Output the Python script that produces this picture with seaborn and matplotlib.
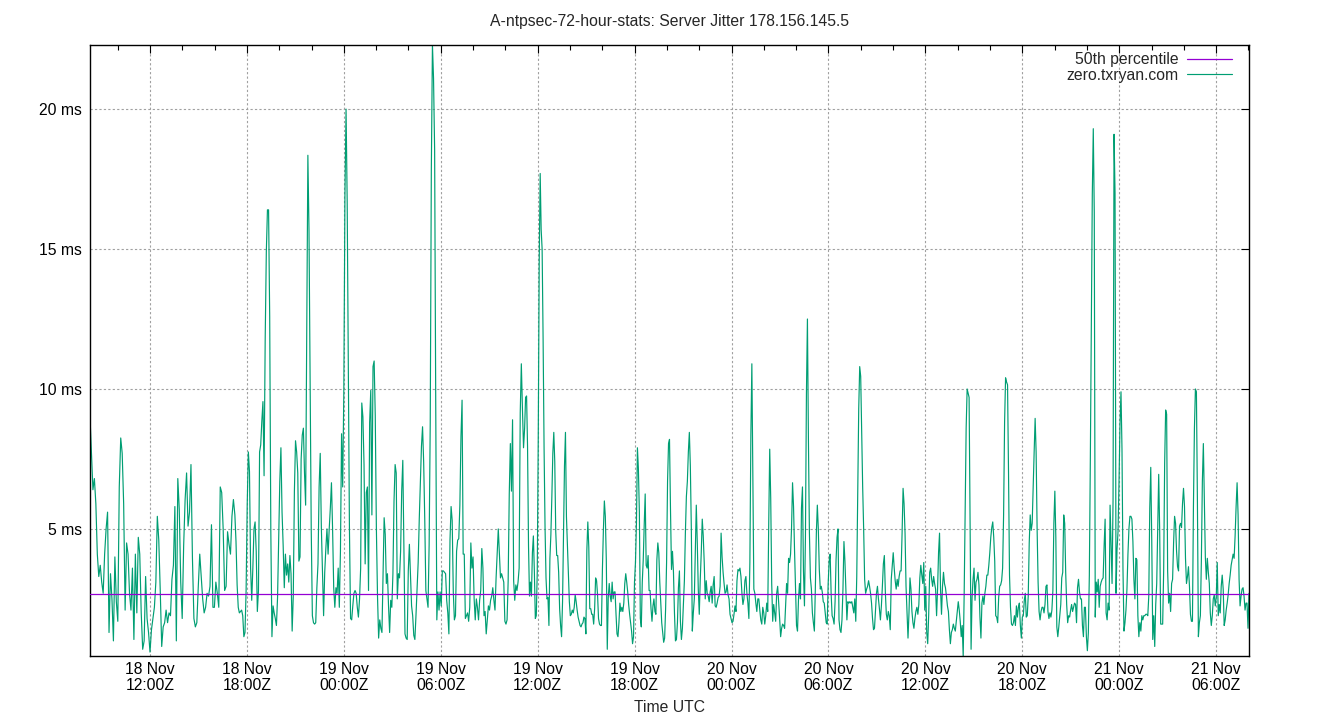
import numpy as np
import pandas as pd
import matplotlib
matplotlib.use("Agg")
import matplotlib.pyplot as plt
import matplotlib.dates as mdates
import seaborn as sns

# ---------------- data ----------------
title = "A-ntpsec-72-hour-stats: Server Jitter 178.156.145.5"
series_name = "zero.txryan.com"
p50_name = "50th percentile"
p50_value = 2.68
x_label = "Time UTC"
t_start = "2023-11-18 08:17"
t_end = "2023-11-21 08:02"
y_ticks = [5, 10, 15, 20]
y_tick_labels = ["5 ms", "10 ms", "15 ms", "20 ms"]
y_min, y_max = 0.46, 22.29

seg1 = [9.0, 7.7, 6.4, 6.8, 5.9, 4.1, 3.3, 3.7, 3.1, 2.7, 4.1, 5.0, 5.6, 1.3, 3.4, 2.5, 1.0, 4.0, 2.4, 1.7,
        6.5, 8.25, 7.7, 5.9, 2.1, 4.5, 4.1, 2.7, 2.1, 3.6, 1.05, 4.1, 2.0, 4.7, 4.1, 2.0, 0.7, 1.0, 3.3, 1.8,
        1.3, 0.6, 1.4, 1.8, 2.2, 3.1, 5.45, 4.6, 2.8, 0.8, 1.5, 1.65, 2.1, 1.65, 2.0, 1.9, 3.2, 3.7, 5.8, 1.0,
        6.8, 5.7, 3.1, 1.8, 4.4, 6.05, 7.0, 5.1, 5.6, 7.3, 3.96, 1.8, 1.5, 1.65, 2.95, 4.1, 3.3, 2.5, 2.0, 2.2,
        2.7, 2.6, 2.95, 5.15, 2.2, 2.2, 3.1, 2.7, 2.2, 6.5, 6.3, 5.0, 2.8, 2.95, 4.9, 4.45, 4.1, 5.45, 6.05]
seg2 = [5.5, 4.55, 3.0, 2.2, 2.0, 2.05, 2.1, 1.9, 1.15, 1.3, 2.8, 5.9, 7.75, 7.05, 3.6, 2.45, 3.6, 5.0, 5.25, 4.2,
        2.05, 2.8, 7.75, 8.0, 8.85, 9.55, 6.9, 11.8, 14.9, 16.4, 16.4, 12.6, 4.95, 1.15, 2.25, 2.0, 1.8, 1.55, 2.55, 4.7,
        6.7, 7.9, 5.6, 4.4, 2.9, 4.1, 3.35, 3.75, 3.1, 4.05, 3.4, 1.35, 2.6, 6.35, 8.15, 7.75, 7.0, 3.85, 4.0, 7.5,
        8.35, 8.6, 7.0, 5.85, 11.85, 18.35, 15.65, 10.25, 4.95, 1.9, 1.65, 1.6, 1.65, 2.9, 3.75, 6.5, 7.7, 5.05, 3.45, 1.9,
        3.45, 4.3, 5.0, 4.1, 5.0, 5.75, 6.65, 5.0, 2.9, 2.2, 2.9, 2.7, 3.6, 2.2, 4.2, 8.4, 6.5, 9.85, 16.9, 20.0,
        16.7, 10.95, 5.05, 1.8, 1.75, 2.25, 2.7, 2.8, 2.7, 2.2, 1.85, 2.5, 3.6, 9.5, 9.0, 7.3, 3.75, 6.3, 6.5, 2.8,
        8.8, 9.95, 5.5, 10.8, 11.0, 9.05, 5.0, 2.6, 1.1]
seg3 = [1.75, 1.45, 1.3, 3.4, 5.4, 4.8, 3.05, 3.4, 2.25, 1.3, 2.45, 2.2, 3.4, 6.0, 7.3, 7.0, 2.5, 3.4, 3.25, 4.2,
        6.35, 7.45, 4.3, 1.25, 1.1, 1.05, 3.5, 4.45, 3.4, 2.25, 1.9, 1.2, 1.05, 1.9, 2.9, 3.8, 5.35, 6.7, 7.95, 8.65,
        7.4, 5.35, 2.8, 2.5, 2.2, 4.45, 8.8, 17.85, 22.3, 21.1, 18.55, 9.5, 1.75, 2.75, 2.1, 2.75, 2.25, 3.5, 3.5, 3.45,
        3.4, 2.45, 2.0, 1.25, 4.6, 5.8, 5.3, 2.75, 1.75, 1.9, 4.2, 4.6, 4.65, 5.85, 8.3, 9.6, 4.1, 4.1, 1.8, 1.9,
        2.0, 1.7, 2.2, 4.5, 3.6, 4.0, 2.5, 1.75, 2.5, 2.2, 1.75, 2.45, 2.8, 4.3, 3.6, 1.9, 2.05, 1.25, 1.75, 2.25,
        2.1, 2.45, 2.6, 2.9, 2.45, 2.1, 3.25, 4.1, 5.0, 4.15, 3.25, 3.4, 3.25, 3.1, 1.7, 1.6, 1.75, 3.15, 6.25, 8.05,
        6.35, 8.9, 3.15, 2.45, 3.0, 2.8, 3.1, 3.6, 9.15, 10.9, 9.3, 7.9]
seg4 = [8.6, 9.7, 9.75, 7.95, 4.4, 2.6, 3.1, 2.6, 4.15, 4.75, 3.5, 1.8, 1.9, 3.5, 8.2, 14.5, 17.7, 15.7, 15.0, 11.8,
        7.9, 5.05, 3.25, 2.5, 2.55, 1.55, 3.95, 4.8, 6.15, 7.7, 8.45, 7.4, 4.9, 4.05, 4.05, 3.45, 2.15, 1.55, 1.15, 2.4,
        4.9, 7.25, 8.45, 5.45, 4.4, 3.4, 2.4, 1.9, 1.95, 2.1, 2.0, 2.2, 2.65, 2.4, 2.1, 1.85, 1.7, 1.55, 1.5, 1.6,
        1.65, 1.85, 1.8, 1.25, 4.25, 5.25, 4.35, 2.15, 2.15, 1.95, 1.95, 1.6, 2.15, 3.25, 3.15, 2.65, 1.8, 1.6, 1.55, 1.55,
        3.55, 4.95, 6.0, 5.45, 3.9, 0.7, 2.55, 3.05, 2.6, 2.4, 3.1, 2.5, 2.75, 2.75, 1.95, 1.25, 1.15, 1.65, 2.35, 2.05,
        2.2, 2.05, 2.35, 3.05, 3.4, 3.1, 2.75, 2.3, 1.95, 1.65, 1.35, 0.9, 1.15, 3.1, 3.8, 5.2, 7.9, 7.15, 5.6, 1.8,
        1.5, 3.1, 3.9, 5.15, 6.25, 3.7, 3.6, 4.05, 2.8, 2.8, 2.15, 1.7, 2.25, 2.5, 2.05, 1.95, 3.9, 4.5, 4.15, 3.1,
        2.4, 1.65, 1.3, 0.95, 1.1, 2.15, 3.8, 6.7, 8.05]
seg5 = [8.2, 5.7, 3.55, 4.2, 3.45, 2.0, 1.0, 1.05, 1.65, 2.9, 3.5, 1.7, 1.05, 1.45, 2.35, 3.15, 4.85, 6.15, 6.7, 7.75,
        8.45, 7.25, 5.0, 1.35, 2.0, 2.5, 4.2, 5.85, 4.5, 2.85, 1.95, 3.2, 4.15, 5.35, 4.75, 3.8, 2.5, 3.15, 2.7, 2.6,
        2.4, 2.75, 2.95, 2.35, 3.0, 3.3, 2.25, 2.2, 2.35, 2.55, 2.6, 2.95, 4.85, 4.0, 3.45, 3.05, 2.7, 2.75, 3.0, 2.65,
        2.5, 1.95, 1.8, 1.65, 1.7, 1.95, 2.25, 2.05, 3.15, 3.55, 3.5, 3.6, 3.3, 2.7, 2.3, 2.5, 3.15, 3.3, 2.7, 2.35,
        1.8, 3.8, 8.35, 10.9, 6.8, 2.85, 2.7, 2.35, 2.05, 2.5, 2.5, 2.1, 1.75, 1.6, 2.2, 2.0, 1.6, 1.9, 2.35, 2.05,
        5.2, 7.85, 6.1, 3.05, 1.7, 2.3, 2.0, 1.7, 2.7, 2.95, 2.4, 1.8, 1.15, 1.45, 1.6, 1.55, 1.45, 2.25, 3.05, 2.7,
        3.95, 3.8, 4.1, 5.05, 6.65, 5.8, 4.25, 2.9, 1.55, 1.35, 2.5, 3.05, 2.5, 5.75, 6.5, 3.5, 2.25, 4.75, 9.85, 12.5,
        8.2, 4.85, 3.25, 2.85, 2.0, 1.65]
seg6 = [1.35, 2.9, 4.85, 5.85, 5.0, 3.55, 2.85, 2.95, 2.75, 2.4, 2.35, 2.0, 1.65, 1.6, 3.05, 3.85, 4.1, 2.7, 1.9, 1.8,
        1.6, 2.4, 3.9, 4.7, 5.0, 1.75, 1.4, 1.3, 1.75, 2.85, 4.55, 3.85, 2.85, 1.75, 2.4, 2.35, 2.4, 2.35, 2.4, 2.2,
        2.0, 2.5, 1.7, 3.3, 6.35, 9.3, 10.8, 10.45, 8.45, 6.5, 5.0, 3.2, 2.7, 2.85, 2.95, 3.15, 2.95, 2.7, 2.35, 1.8,
        1.4, 1.45, 2.05, 2.7, 2.95, 2.5, 2.15, 1.75, 2.25, 2.95, 3.75, 4.05, 2.75, 1.95, 1.75, 2.05, 1.9, 1.4, 3.2, 3.7,
        4.15, 3.6, 3.15, 2.85, 3.2, 2.95, 3.3, 3.5, 3.5, 4.85, 6.45, 5.9, 4.85, 2.95, 2.05, 1.1, 2.0, 3.25, 2.85, 2.05,
        1.65, 1.45, 1.8, 2.05, 2.2, 1.95, 2.3, 3.25, 3.7, 3.35, 3.05, 3.8, 2.1, 2.95, 1.3, 0.9, 1.95, 3.45, 3.6, 3.2,
        2.95, 3.3, 3.05, 2.85, 1.9, 2.85, 4.15, 4.85, 2.85, 1.95, 2.95, 3.45, 3.05, 2.9, 2.6, 2.25, 2.05, 1.4, 0.9, 1.3,
        1.4, 1.6, 1.45, 1.35, 1.7, 2.05, 2.4]
seg7 = [2.1, 1.7, 1.15, 1.55, 0.45, 2.7, 5.6, 8.6, 10.0, 9.85, 9.7, 5.15, 0.7, 2.55, 3.2, 3.6, 2.45, 3.1, 3.2, 3.45,
        3.0, 1.85, 1.1, 2.35, 2.6, 2.3, 2.7, 2.95, 3.35, 3.35, 3.7, 4.15, 4.7, 5.05, 5.25, 4.7, 3.85, 1.9, 1.85, 1.65,
        2.55, 2.95, 3.0, 3.15, 3.6, 5.5, 8.8, 10.4, 10.25, 10.15, 7.0, 3.35, 2.2, 1.6, 1.55, 1.65, 1.9, 1.55, 2.25, 1.85,
        2.2, 2.35, 1.55, 1.1, 1.85, 1.9, 2.45, 2.7, 1.85, 1.9, 2.6, 4.5, 5.5, 4.95, 5.2, 6.5, 7.75, 8.95, 7.75, 5.0,
        3.1, 2.05, 1.75, 2.05, 2.2, 2.2, 2.0, 2.3, 2.95, 3.0, 2.05, 1.8, 2.0, 1.85, 2.1, 2.8, 5.2, 6.35, 4.7, 1.5,
        1.15, 1.5, 1.9, 2.3, 3.25, 3.45, 5.5, 5.2, 3.45, 2.3, 1.65, 1.9, 1.85, 2.1, 2.3, 2.05, 2.2, 2.35, 2.3, 1.65,
        2.9, 3.2, 2.75, 2.5, 2.5, 1.55, 1.15, 2.2, 2.2, 1.15, 0.65, 1.3, 3.35, 7.45, 12.2, 16.95, 19.3, 16.3, 1.85, 3.1,
        2.75, 3.2, 2.2, 2.95, 3.1, 3.2, 3.25]
seg8 = [4.4, 5.35, 2.0, 1.75, 2.35, 2.1, 5.85, 4.4, 3.05, 6.05, 19.1, 17.0, 2.7, 4.25, 4.9, 6.65, 8.75, 9.9, 7.85, 3.55,
        1.35, 1.65, 2.1, 2.85, 4.1, 5.0, 5.45, 5.45, 5.35, 4.55, 3.2, 2.5, 3.95, 3.9, 1.9, 1.15, 1.65, 1.35, 1.9, 1.75,
        1.9, 1.9, 1.95, 1.95, 1.9, 2.6, 5.75, 7.2, 4.6, 1.05, 1.9, 0.8, 2.3, 3.05, 4.9, 6.95, 4.9, 1.6, 1.6, 1.6,
        3.5, 7.35, 9.25, 9.1, 3.5, 2.35, 2.7, 2.05, 3.05, 3.2, 4.5, 5.45, 5.2, 4.2, 3.65, 3.5, 5.1, 5.2, 5.05, 5.9,
        6.45, 5.8, 3.95, 3.05, 3.3, 3.65, 2.95, 1.95, 1.7, 1.7, 5.8, 8.6, 10.0, 9.9, 6.05, 1.15, 1.65, 1.9, 3.9, 6.7,
        8.05, 6.1, 4.0, 3.2, 3.95, 3.45, 3.05, 2.0, 1.55, 1.9, 2.5, 2.65, 2.25, 2.55, 3.8, 1.9, 2.3, 2.0, 2.95, 3.35,
        2.85, 1.55, 1.75, 2.1, 2.35, 2.65, 3.05, 3.35, 3.7, 3.9, 4.1, 3.95, 4.75, 5.8, 6.65, 5.5, 3.2, 2.25, 2.6, 2.85,
        2.9, 2.6, 2.1, 2.35, 2.35, 1.45, 2.7]

segments = [seg1, seg2, seg3, seg4, seg5, seg6, seg7, seg8]

# build evenly spaced sample times within each segment of the 72 h window
edges = pd.date_range(t_start, t_end, periods=len(segments) + 1)
times, values = [], []
for k, seg in enumerate(segments):
    last = k == len(segments) - 1
    ts = pd.date_range(edges[k], edges[k + 1], periods=len(seg) + (0 if last else 1))
    if not last:
        ts = ts[:-1]
    times.extend(ts)
    values.extend(seg)
df = pd.DataFrame({"time": times, "jitter": values})
df_p50 = pd.DataFrame({"time": [edges[0], edges[-1]], "jitter": [p50_value, p50_value]})

# ---------------- style ----------------
sns.set_style("white")
plt.rcParams["font.family"] = ["Liberation Sans", "DejaVu Sans"]
FS = 11.3

fig = plt.figure(figsize=(13.4, 7.2), dpi=100)
ax = fig.add_axes([90 / 1340, 1 - 656 / 720, (1249 - 90) / 1340, (656 - 45) / 720])

sns.lineplot(data=df, x="time", y="jitter", ax=ax, color="#009e73", lw=0.85,
             estimator=None, sort=False, label=series_name, zorder=2)
sns.lineplot(data=df_p50, x="time", y="jitter", ax=ax, color="#9400d3", lw=0.9,
             estimator=None, label=p50_name, zorder=3)

ax.set_xlim(edges[0], edges[-1])
ax.set_ylim(y_min, y_max)

ax.set_yticks(y_ticks)
ax.set_yticklabels(y_tick_labels)
ax.xaxis.set_major_locator(mdates.HourLocator(byhour=[0, 6, 12, 18]))
ax.xaxis.set_minor_locator(mdates.HourLocator(byhour=range(0, 24, 2)))
ax.xaxis.set_major_formatter(mdates.DateFormatter("%d %b\n%H:%MZ"))

ax.grid(True, which="major", color="#a0a0a0", linestyle=(0, (2, 2)), lw=0.8)
ax.tick_params(which="both", direction="in", top=True, right=True, colors="black",
               labelsize=FS)
ax.tick_params(which="major", length=6, width=0.8, pad=6)
ax.tick_params(which="minor", length=3.5, width=0.8)
ax.tick_params(axis="x", which="major", pad=4)
for lab in ax.get_xticklabels():
    lab.set_linespacing(1.08)
for s in ax.spines.values():
    s.set_color("black")
    s.set_linewidth(1.0)

ax.set_xlabel(x_label, fontsize=FS, labelpad=5.5)
ax.set_ylabel("")
ax.set_title(title, fontsize=FS, pad=13.8)

handles, labels = ax.get_legend_handles_labels()
order = [labels.index(p50_name), labels.index(series_name)]
ax.legend([handles[i] for i in order], [labels[i] for i in order], loc="upper right",
          bbox_to_anchor=(0.9908, 0.9985), frameon=False, markerfirst=False,
          handlelength=2.85, handletextpad=0.55, labelspacing=0.05, borderaxespad=0.0,
          fontsize=FS)

fig.savefig("out.png", dpi=100)
